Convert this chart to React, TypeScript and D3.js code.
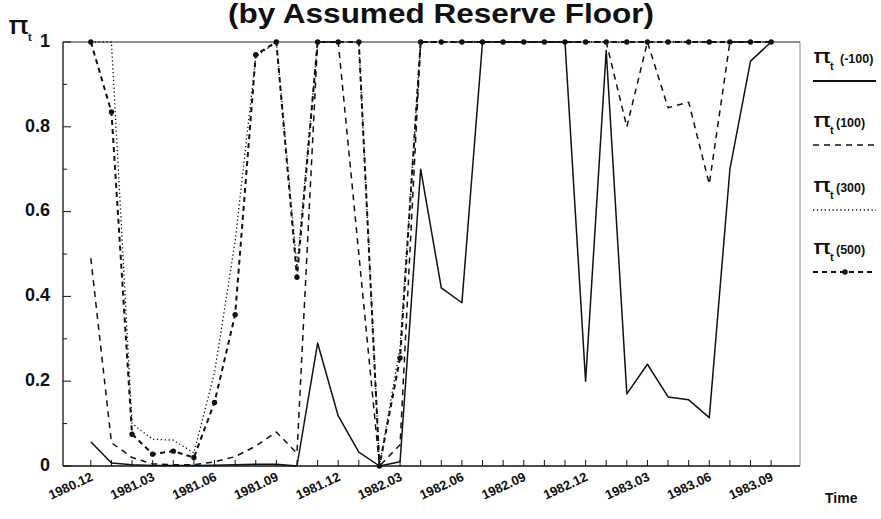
import { useRef, useEffect } from 'react'
import * as d3 from 'd3'

// monthly observations, 1980.12 .. 1983.09
const months = [
  '1980.12', '1981.01', '1981.02', '1981.03', '1981.04', '1981.05', '1981.06', '1981.07', '1981.08',
  '1981.09', '1981.10', '1981.11', '1981.12', '1982.01', '1982.02', '1982.03', '1982.04', '1982.05',
  '1982.06', '1982.07', '1982.08', '1982.09', '1982.10', '1982.11', '1982.12', '1983.01', '1983.02',
  '1983.03', '1983.04', '1983.05', '1983.06', '1983.07', '1983.08', '1983.09',
]
const tickMonths = [
  '1980.12', '1981.03', '1981.06', '1981.09', '1981.12', '1982.03',
  '1982.06', '1982.09', '1982.12', '1983.03', '1983.06', '1983.09',
]
const yTicks = [0, 0.2, 0.4, 0.6, 0.8, 1]
const yTickLabels = ['0', '0.2', '0.4', '0.6', '0.8', '1']

const piMinus100 = [
  0.057, 0.007, 0.003, 0.001, 0.001, 0.001, 0.002, 0.003, 0.004, 0.004, 0, 0.29, 0.118, 0.033, 0, 0.01,
  0.7, 0.42, 0.385, 1, 1, 1, 1, 1, 0.2, 0.98, 0.17, 0.24, 0.163, 0.156, 0.114, 0.7, 0.955, 1,
]
const pi100 = [
  0.49, 0.055, 0.02, 0.005, 0.003, 0.003, 0.01, 0.022, 0.047, 0.08, 0.03, 1, 1, 0.5, 0, 0.05,
  1, 1, 1, 1, 1, 1, 1, 1, 1, 1, 0.8, 1, 0.845, 0.858, 0.665, 1, 1, 1,
]
const pi300 = [
  1, 1, 0.1, 0.063, 0.061, 0.031, 0.22, 0.53, 0.965, 1, 0.47, 1, 1, 1, 0, 0.28,
  1, 1, 1, 1, 1, 1, 1, 1, 1, 1, 1, 1, 1, 1, 1, 1, 1, 1,
]
const pi500 = [
  1, 0.835, 0.075, 0.028, 0.035, 0.02, 0.15, 0.357, 0.97, 1, 0.445, 1, 1, 1, 0, 0.255,
  1, 1, 1, 1, 1, 1, 1, 1, 1, 1, 1, 1, 1, 1, 1, 1, 1, 1,
]

const seriesLabels = ['(-100)', '(100)', '(300)', '(500)']

const FONT = "'Liberation Sans', Arial, Helvetica, sans-serif"
const PI_FONT = "'DejaVu Sans', sans-serif"

export default function App() {
  const svgRef = useRef<SVGSVGElement>(null)

  useEffect(() => {
    const svg = svgRef.current
    if (!svg) return
    const W = 881
    const H = 519
    const sel = d3.select(svg)
    sel.selectAll('*').remove()
    sel.attr('width', W).attr('height', H)

    const left = 63, right = 800, top = 42, bottom = 466

    const x = d3.scaleLinear().domain([-1.35, months.length + 0.4]).range([left, right])
    const y = d3.scaleLinear().domain([0, 1]).range([bottom, top])

    sel.append('rect').attr('width', W).attr('height', H).attr('fill', '#fff')

    // title
    sel.append('text')
      .attr('x', 441).attr('y', 23)
      .attr('text-anchor', 'middle')
      .attr('font-family', FONT).attr('font-weight', 'bold').attr('font-size', '27px')
      .attr('textLength', 426).attr('lengthAdjust', 'spacingAndGlyphs')
      .attr('fill', '#111')
      .text('(by Assumed Reserve Floor)')

    // y axis title
    sel.append('text').attr('x', 8).attr('y', 34)
      .attr('font-family', PI_FONT).attr('font-size', '25px').attr('fill', '#111')
      .attr('textLength', 21).attr('lengthAdjust', 'spacingAndGlyphs')
      .text('π')
    sel.append('text').attr('x', 28).attr('y', 41)
      .attr('font-family', FONT).attr('font-weight', 'bold').attr('font-size', '11px').attr('fill', '#111')
      .text('t')

    // frame
    sel.append('line').attr('x1', left).attr('x2', right).attr('y1', top).attr('y2', top)
      .attr('stroke', '#222').attr('stroke-width', 1)
    sel.append('line').attr('x1', right).attr('x2', right).attr('y1', top).attr('y2', bottom)
      .attr('stroke', '#888').attr('stroke-width', 1)
    sel.append('line').attr('x1', left).attr('x2', left).attr('y1', top).attr('y2', bottom)
      .attr('stroke', '#111').attr('stroke-width', 1.3)
    sel.append('line').attr('x1', left).attr('x2', right).attr('y1', bottom).attr('y2', bottom)
      .attr('stroke', '#111').attr('stroke-width', 1.6)

    // y ticks (major every 0.2, minor every 0.1)
    d3.range(0, 11).forEach((k) => {
      const v = k / 10
      const major = k % 2 === 0
      sel.append('line')
        .attr('x1', left).attr('x2', left + (major ? 8 : 4))
        .attr('y1', y(v)).attr('y2', y(v))
        .attr('stroke', '#111').attr('stroke-width', 1)
    })
    yTicks.forEach((t, i) => {
      sel.append('text')
        .attr('x', 50).attr('y', y(t))
        .attr('text-anchor', 'end').attr('dominant-baseline', 'middle')
        .attr('font-family', FONT).attr('font-weight', 'bold').attr('font-size', '18px')
        .attr('fill', '#111')
        .text(yTickLabels[i])
    })

    // x ticks, one per month
    months.forEach((m, i) => {
      sel.append('line')
        .attr('x1', x(i)).attr('x2', x(i))
        .attr('y1', bottom).attr('y2', bottom - 6)
        .attr('stroke', '#111').attr('stroke-width', 1)
    })
    tickMonths.forEach((m) => {
      const i = months.indexOf(m)
      const tx = x(i) + 3
      const ty = 480
      sel.append('text')
        .attr('transform', `translate(${tx},${ty}) rotate(-25)`)
        .attr('text-anchor', 'end')
        .attr('font-family', FONT).attr('font-weight', 'bold').attr('font-size', '13px')
        .attr('fill', '#111')
        .text(m)
    })
    sel.append('text')
      .attr('x', 825).attr('y', 503)
      .attr('font-family', FONT).attr('font-weight', 'bold').attr('font-size', '14px')
      .attr('fill', '#111')
      .text('Time')

    const series = [
      { values: pi300, dash: '1.3,2.6', width: 1.3, dots: false },
      { values: pi100, dash: '6,5', width: 1.5, dots: false },
      { values: pi500, dash: '5,4', width: 2, dots: true },
      { values: piMinus100, dash: null, width: 1.5, dots: false },
    ]

    const line = d3.line<number>().x((d, i) => x(i)).y((d) => y(d))

    series.forEach((s) => {
      const p = sel.append('path')
        .attr('d', line(s.values))
        .attr('fill', 'none')
        .attr('stroke', '#111')
        .attr('stroke-width', s.width)
        .attr('stroke-linejoin', 'round')
      if (s.dash) p.attr('stroke-dasharray', s.dash)
      if (s.dots) {
        s.values.forEach((v, i) => {
          sel.append('circle').attr('cx', x(i)).attr('cy', y(v)).attr('r', 2.7).attr('fill', '#111')
        })
      }
    })

    // legend
    const legendLineY = [81, 145, 210, 272]
    const legendStyles = [
      { dash: null, width: 1.8 },
      { dash: '6,5', width: 1.5 },
      { dash: '1.3,2.6', width: 1.3 },
      { dash: '5,4', width: 2 },
    ]
    seriesLabels.forEach((lab, i) => {
      const ly = legendLineY[i]
      const tyB = ly - 18
      sel.append('text').attr('x', 813).attr('y', tyB)
        .attr('font-family', PI_FONT).attr('font-size', '20px').attr('fill', '#111')
        .attr('textLength', 18).attr('lengthAdjust', 'spacingAndGlyphs')
        .text('π')
      sel.append('text').attr('x', 830).attr('y', tyB + 7)
        .attr('font-family', FONT).attr('font-weight', 'bold').attr('font-size', '11px').attr('fill', '#111')
        .text('t')
      sel.append('text').attr('x', i === 0 ? 840 : 836).attr('y', tyB)
        .attr('font-family', FONT).attr('font-weight', 'bold').attr('font-size', '12.5px').attr('fill', '#111')
        .text(lab)
      const l = sel.append('line')
        .attr('x1', 813).attr('x2', 876).attr('y1', ly).attr('y2', ly)
        .attr('stroke', '#111').attr('stroke-width', legendStyles[i].width)
      if (legendStyles[i].dash) l.attr('stroke-dasharray', legendStyles[i].dash)
      if (i === 3) {
        sel.append('circle').attr('cx', 845).attr('cy', ly).attr('r', 2.7).attr('fill', '#111')
      }
    })
  }, [])

  return (
    <svg
      ref={svgRef}
      style={{ position: 'absolute', left: 0, top: 0, display: 'block' }}
      width={881}
      height={519}
    />
  )
}
